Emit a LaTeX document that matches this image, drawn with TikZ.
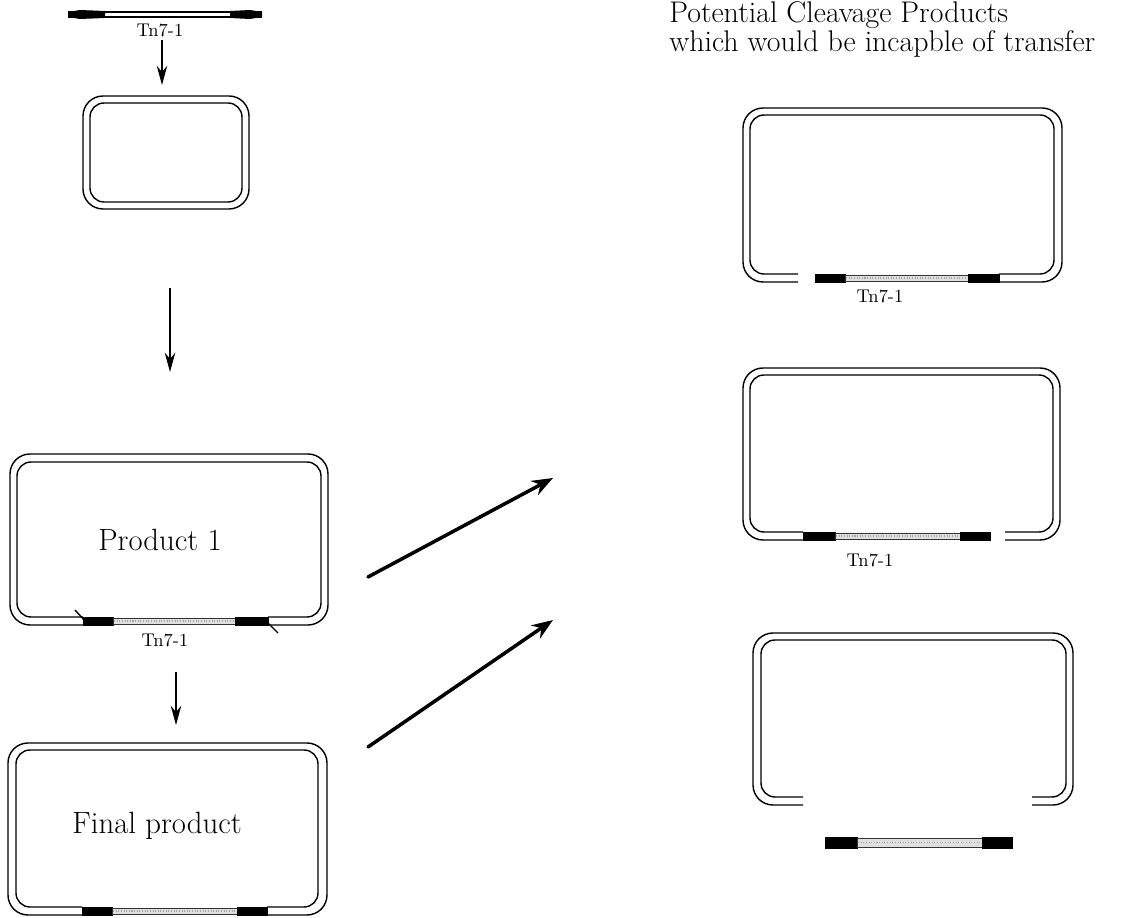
\documentclass[tikz,border=0pt]{standalone}
\usepackage{tikz}
\usetikzlibrary{arrows.meta,positioning}
\tikzstyle{strand} = [line width=0.8pt]
\tikzstyle{flank} = [fill=black,draw=black,line width=0.4pt]
\tikzstyle{core} = [fill=gray!25,draw=black!80,line width=0.5pt]
\tikzstyle{beads} = [draw=gray!70,line width=0.6pt,dash pattern=on 0.6pt off 0.9pt]
\tikzstyle{tnlab} = [inner sep=0,font=\fontsize{10.5}{12}\selectfont]
\tikzstyle{biglab} = [inner sep=0,font=\fontsize{17.5}{20}\selectfont]
\tikzstyle{headline} = [inner sep=0,anchor=base west,font=\fontsize{17}{20}\selectfont]
\tikzstyle{down} = [-{Stealth[length=11pt,width=6pt]},line width=0.7pt]
\tikzstyle{cleave} = [-{Stealth[length=12pt,width=9pt]},line width=2pt,line cap=round]
\def \rout {0.4cm}
\def \rin {0.28cm}

\begin{document}
\begin{tikzpicture}[x=0.02cm,y=-0.02cm]
  \useasboundingbox (0,0) rectangle (1147,918);
  % transposon
  \draw[strand] (68,12) -- (262,12);
  \draw[strand] (68,17) -- (262,17);
  \fill (68,12) -- (80,10) -- (105,11) -- (105,18) -- (80,19) -- (68,17) -- cycle;
  \fill (262,12) -- (250,10) -- (230,11) -- (230,18) -- (250,19) -- (262,17) -- cycle;
  \node[tnlab] (tntop) at (160,30) {Tn7-1};
  \coordinate (a1s) at (162,40);
  \coordinate (a1e) at (162,85);
  \draw[down] (a1s) -- (a1e);
  % target plasmid
  \draw[strand,rounded corners=\rout] (83,96) rectangle (249,209);
  \draw[strand,rounded corners=\rin] (90,103) rectangle (242,202);
  \coordinate (a2s) at (170,288);
  \coordinate (a2e) at (170,372);
  \draw[down] (a2s) -- (a2e);
  % product 1
  \draw[strand,rounded corners=\rout] (83,625) -- (10,625) -- (10,454) -- (328,454) -- (328,625) -- (268,625);
  \draw[strand,rounded corners=\rin] (83,617) -- (17,617) -- (17,462) -- (321,462) -- (321,617) -- (268,617);
  \draw[flank] (83,617) rectangle (113,625);
  \draw[core] (113,618) rectangle (235,624);
  \draw[beads] (114,621) -- (234,621);
  \draw[flank] (235,617) rectangle (268,625);
  \draw[strand] (75,610) -- (85,621);
  \draw[strand] (266,621) -- (278,633);
  \node[biglab] (prod1) at (160,540) {Product 1};
  \node[tnlab] (tnp1) at (165,640) {Tn7-1};
  \coordinate (a3s) at (176,672);
  \coordinate (a3e) at (176,725);
  \draw[down] (a3s) -- (a3e);
  % final product
  \draw[strand,rounded corners=\rout] (82,915) -- (8,915) -- (8,743) -- (327,743) -- (327,915) -- (267,915);
  \draw[strand,rounded corners=\rin] (82,907) -- (16,907) -- (16,750) -- (318,750) -- (318,907) -- (267,907);
  \draw[flank] (82,907) rectangle (112,915);
  \draw[core] (112,908) rectangle (237,914);
  \draw[beads] (113,911) -- (236,911);
  \draw[flank] (237,907) rectangle (267,915);
  \node[biglab] (final) at (157,826) {Final product};
  % cleavage
  \coordinate (c1s) at (368,577);
  \coordinate (c1e) at (553,478);
  \coordinate (c2s) at (368,747);
  \coordinate (c2e) at (553,620);
  \draw[cleave] (c1s) -- (c1e);
  \draw[cleave] (c2s) -- (c2e);
  \node[headline] (title1) at (669,23) {Potential Cleavage Products};
  \node[headline] (title2) at (669,52) {which would be incapble of transfer};
  % cut left of the element
  \draw[strand,rounded corners=\rout] (798,282) -- (743,282) -- (743,108) -- (1062,108) -- (1062,282) -- (999,282);
  \draw[strand,rounded corners=\rin] (798,274) -- (750,274) -- (750,115) -- (1054,115) -- (1054,274) -- (999,274);
  \draw[flank] (815,274) rectangle (845,282);
  \draw[core] (845,275) rectangle (968,281);
  \draw[beads] (846,278) -- (967,278);
  \draw[flank] (968,274) rectangle (999,282);
  \node[tnlab] (tnc1) at (880,296) {Tn7-1};
  % cut right of the element
  \draw[strand,rounded corners=\rout] (803,540) -- (743,540) -- (743,368) -- (1060,368) -- (1060,540) -- (1005,540);
  \draw[strand,rounded corners=\rin] (803,532) -- (750,532) -- (750,375) -- (1053,375) -- (1053,532) -- (1005,532);
  \draw[flank] (803,532) rectangle (835,540);
  \draw[core] (835,533) rectangle (960,539);
  \draw[beads] (836,536) -- (959,536);
  \draw[flank] (960,532) rectangle (990,540);
  \node[tnlab] (tnc2) at (870,560) {Tn7-1};
  % both ends cut
  \draw[strand,rounded corners=\rout] (803,805) -- (753,805) -- (753,633) -- (1073,633) -- (1073,805) -- (1032,805);
  \draw[strand,rounded corners=\rin] (803,797) -- (761,797) -- (761,640) -- (1066,640) -- (1066,797) -- (1032,797);
  \draw[flank] (825,837) rectangle (857,848);
  \draw[core] (857,838) rectangle (982,847);
  \draw[beads] (858,842.5) -- (981,842.5);
  \draw[flank] (982,837) rectangle (1012,848);
\end{tikzpicture}
\end{document}
